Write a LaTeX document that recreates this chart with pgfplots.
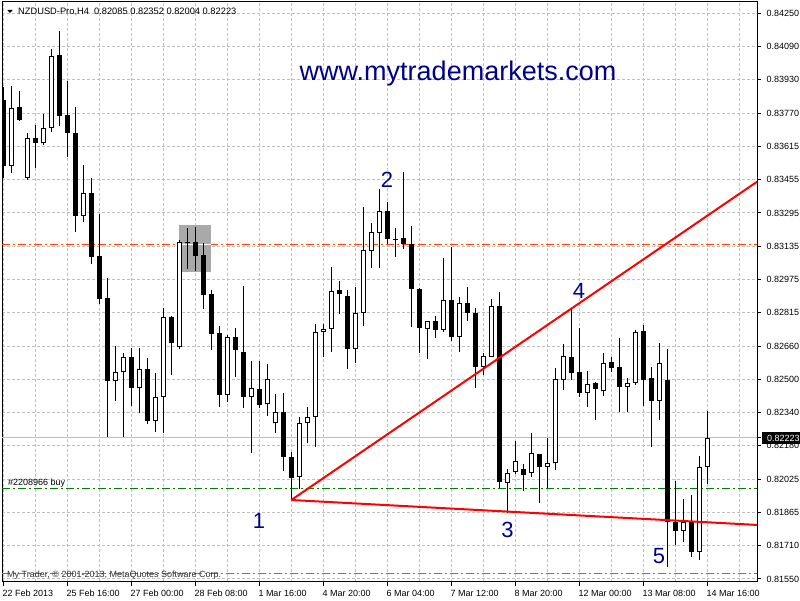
\documentclass[border=0pt]{standalone}
\usepackage{fontspec}
\setmainfont{Liberation Sans}
\usepackage{pgfplots}
\usepackage{pgfplotstable}
\pgfplotsset{compat=1.18}
\definecolor{gridgray}{RGB}{192,192,192}
\definecolor{navyt}{RGB}{0,0,139}
\definecolor{lvlorange}{rgb}{1,0.27,0}
\definecolor{mtgreen}{RGB}{0,128,0}
\definecolor{boxgray}{RGB}{169,169,169}
\pgfplotstableread{
i O H L C
1 0.83521 0.83903 0.83488 0.83798
3 0.83464 0.83679 0.83454 0.83655
5 0.83631 0.83769 0.83621 0.83703
6 0.83703 0.84080 0.83683 0.84046
10 0.83283 0.83526 0.83254 0.83392
14 0.82495 0.82662 0.82400 0.82538
15 0.82538 0.82629 0.82228 0.82610
17 0.82462 0.82652 0.82342 0.82552
19 0.82304 0.82533 0.82252 0.82419
20 0.82419 0.82843 0.82247 0.82800
22 0.82657 0.83168 0.82648 0.83158
28 0.82428 0.82715 0.82395 0.82705
31 0.82419 0.82590 0.82151 0.82462
33 0.82385 0.82576 0.82328 0.82505
34 0.82295 0.82433 0.82247 0.82347
37 0.82037 0.82323 0.81980 0.82295
38 0.82295 0.82371 0.82199 0.82323
39 0.82323 0.82767 0.82180 0.82729
40 0.82729 0.82767 0.82610 0.82743
41 0.82743 0.83039 0.82633 0.82925
44 0.82648 0.82944 0.82581 0.82820
45 0.82820 0.83325 0.82758 0.83120
46 0.83115 0.83249 0.83034 0.83206
47 0.83201 0.83411 0.83034 0.83306
53 0.82743 0.82781 0.82600 0.82781
55 0.82738 0.83082 0.82729 0.82882
57 0.82705 0.82896 0.82633 0.82867
60 0.82562 0.82629 0.82524 0.82614
61 0.82610 0.82886 0.82610 0.82853
63 0.82008 0.82075 0.81865 0.82056
64 0.82061 0.82209 0.82051 0.82113
66 0.82056 0.82247 0.82037 0.82151
68 0.82085 0.82223 0.81984 0.82104
69 0.82104 0.82557 0.82070 0.82505
70 0.82500 0.82672 0.82452 0.82614
73 0.82438 0.82543 0.82371 0.82481
75 0.82447 0.82629 0.82423 0.82581
78 0.82466 0.82509 0.82347 0.82485
79 0.82485 0.82738 0.82476 0.82729
82 0.82400 0.82676 0.82309 0.82581
85 0.81779 0.81932 0.81727 0.81822
87 0.81679 0.82137 0.81641 0.82085
88 0.82085 0.82352 0.82004 0.82223
}\bull
\pgfplotstableread{
i O H L C
0 0.83836 0.83898 0.83464 0.83521
2 0.83803 0.83879 0.83736 0.83741
4 0.83655 0.83717 0.83512 0.83631
7 0.84051 0.84166 0.83712 0.83760
8 0.83765 0.83927 0.83564 0.83679
9 0.83679 0.83803 0.83206 0.83283
11 0.83392 0.83464 0.83053 0.83087
12 0.83092 0.83292 0.82863 0.82886
13 0.82891 0.82987 0.82228 0.82495
16 0.82610 0.82652 0.82376 0.82462
18 0.82552 0.82605 0.82290 0.82304
21 0.82800 0.82805 0.82524 0.82676
23 0.83158 0.83225 0.83030 0.83154
24 0.83158 0.83230 0.83020 0.83092
25 0.83096 0.83154 0.82839 0.82905
26 0.82910 0.82929 0.82643 0.82719
27 0.82724 0.82758 0.82371 0.82428
29 0.82705 0.82748 0.82514 0.82643
30 0.82633 0.82948 0.82366 0.82419
32 0.82457 0.82590 0.82366 0.82380
35 0.82347 0.82438 0.82065 0.82132
36 0.82132 0.82156 0.81927 0.82032
42 0.82929 0.82972 0.82815 0.82910
43 0.82901 0.82929 0.82552 0.82648
48 0.83306 0.83349 0.83149 0.83173
49 0.83173 0.83225 0.83087 0.83168
50 0.83178 0.83493 0.83125 0.83149
51 0.83149 0.83235 0.82753 0.82934
52 0.82934 0.82939 0.82629 0.82748
54 0.82781 0.82805 0.82700 0.82738
56 0.82882 0.83135 0.82686 0.82705
58 0.82867 0.82944 0.82781 0.82820
59 0.82820 0.82843 0.82462 0.82562
62 0.82853 0.82920 0.81984 0.82013
65 0.82075 0.82099 0.81970 0.82046
67 0.82147 0.82147 0.81913 0.82085
71 0.82610 0.82843 0.82500 0.82533
72 0.82538 0.82748 0.82419 0.82438
74 0.82485 0.82490 0.82309 0.82457
76 0.82586 0.82610 0.82538 0.82557
77 0.82562 0.82700 0.82347 0.82466
80 0.82734 0.82762 0.82376 0.82500
81 0.82509 0.82562 0.82180 0.82400
83 0.82500 0.82648 0.81607 0.81822
84 0.81822 0.82018 0.81712 0.81779
86 0.81822 0.81951 0.81655 0.81679
}\bear
\newcommand{\smallf}{\fontsize{9}{10}\selectfont}
\begin{document}
\begin{tikzpicture}
\path[use as bounding box, fill=white] (-2pt,-18.5pt) rectangle (798pt,581.5pt);
\begin{axis}[
  scale only axis, width=755pt, height=579.5pt,
  xmin=-0.1625, xmax=94.2125, ymin=0.81538, ymax=0.84304,
  axis line style={line width=1pt, black},
  tick align=outside, xtick pos=left, ytick pos=right, yticklabel pos=right,
  major tick length=4pt, minor tick length=0pt,
  tick style={black, line width=1pt},
  xtick={0,8,...,88}, minor xtick={4,12,...,92},
  xticklabels={22 Feb 2013, 25 Feb 16:00, 27 Feb 00:00, 28 Feb 08:00, 1 Mar 16:00, 4 Mar 20:00, 6 Mar 04:00, 7 Mar 12:00, 8 Mar 20:00, 12 Mar 00:00, 13 Mar 08:00, 14 Mar 16:00},
  ytick={0.81550,0.817088,0.818676,0.820265,0.821853,0.823441,0.825029,0.826618,0.828206,0.829794,0.831382,0.832971,0.834559,0.836147,0.837735,0.839324,0.840912,0.84250},
  yticklabels={0.81550,0.81710,0.81865,0.82025,0.82180,0.82340,0.82500,0.82660,0.82815,0.82975,0.83135,0.83295,0.83455,0.83615,0.83770,0.83930,0.84090,0.84250},
  xmajorgrids, xminorgrids, ymajorgrids,
  major grid style={gridgray, line width=1pt, dash pattern=on 3pt off 2pt},
  minor grid style={gridgray, line width=1pt, dash pattern=on 3pt off 2pt},
  ticklabel style={font=\smallf, inner sep=0pt, text=black},
  xticklabel style={anchor=north west, xshift=-1pt, yshift=-4.5pt},
  yticklabel style={anchor=west, xshift=5.5pt},
  extra y ticks={0.82223}, extra y tick labels={0.82223},
  extra y tick style={major grid style={solid, gridgray, line width=1pt},
     yticklabel style={fill=black, text=white, inner xsep=5pt, inner ysep=2.5pt, xshift=-4.5pt}},
]
% shaded rectangle
\addplot[draw=none, fill=boxgray, forget plot] coordinates {(22,0.83240) (25.925,0.83240) (25.925,0.83017) (22,0.83017)} -- cycle;
% horizontal levels
\addplot[color=lvlorange, line width=1.3pt, dash pattern=on 8pt off 3pt on 2pt off 3pt, forget plot] coordinates {(-0.2,0.831465) (94.3,0.831465)};
\addplot[color=white, line width=1pt, forget plot] coordinates {(22,0.831465) (25.925,0.831465)};
\addplot[color=lvlorange, line width=1.5pt, dash pattern=on 8pt off 3pt on 2pt off 3pt, forget plot] coordinates {(-0.2,0.815762) (94.3,0.815762)};
\addplot[color=mtgreen, line width=1.2pt, dash pattern=on 8pt off 3pt on 2pt off 3pt, forget plot] coordinates {(-0.2,0.819819) (94.3,0.819819)};
% wicks
\addplot[draw=none, forget plot, error bars/.cd, y dir=plus, y explicit, error mark=none,
  error bar style={draw=black, solid, line width=1pt}]
  table[x=i, y=L, y error plus expr=\thisrow{H}-\thisrow{L}] {\bear};
\addplot[draw=none, forget plot, error bars/.cd, y dir=plus, y explicit, error mark=none,
  error bar style={draw=black, solid, line width=1pt}]
  table[x=i, y=L, y error plus expr=\thisrow{H}-\thisrow{L}] {\bull};
% bodies
\addplot[draw=none, forget plot, error bars/.cd, y dir=plus, y explicit, error mark=none,
  error bar style={draw=black, solid, line width=5pt}]
  table[x=i, y=C, y error plus expr=\thisrow{O}-\thisrow{C}] {\bear};
\addplot[draw=none, forget plot, error bars/.cd, y dir=plus, y explicit, error mark=none,
  error bar style={draw=black, solid, line width=5pt}]
  table[x=i, y=O, y error plus expr=\thisrow{C}-\thisrow{O}] {\bull};
\addplot[draw=none, forget plot, error bars/.cd, y dir=plus, y explicit, error mark=none,
  error bar style={draw=white, solid, line width=3pt}]
  table[x=i, y expr=\thisrow{O}+0.0000477, y error plus expr=\thisrow{C}-\thisrow{O}-0.0000954] {\bull};
% trend lines
\addplot[color=red, line width=2pt, forget plot] coordinates {(36,0.81927) (94.2125,0.83446)};
\addplot[color=red, line width=2pt, forget plot] coordinates {(36,0.81927) (94.2125,0.81808)};
% annotations
\node[font=\fontsize{27}{30}\selectfont, text=navyt, anchor=base, inner sep=0pt] at (axis cs:56.84,0.83927) {www.mytrademarkets.com};
\node[font=\fontsize{22}{24}\selectfont, text=navyt, inner sep=0pt] at (axis cs:31.96,0.81827) {1};
\node[font=\fontsize{22}{24}\selectfont, text=navyt, inner sep=0pt] at (axis cs:47.96,0.83454) {2};
\node[font=\fontsize{22}{24}\selectfont, text=navyt, inner sep=0pt] at (axis cs:63.03,0.81786) {3};
\node[font=\fontsize{22}{24}\selectfont, text=navyt, inner sep=0pt] at (axis cs:71.96,0.82927) {4};
\node[font=\fontsize{22}{24}\selectfont, text=navyt, inner sep=0pt] at (axis cs:81.96,0.81660) {5};
\end{axis}
\fill[black] (5.3pt,571.5pt) -- (10.7pt,571.5pt) -- (8pt,568.5pt) -- cycle;
\node[font=\fontsize{9.3}{10}\selectfont, anchor=base west, inner sep=0pt] at (16pt,566.5pt) {NZDUSD-Pro,H4\ \ 0.82085 0.82352 0.82004 0.82223};
\node[font=\smallf, anchor=base west, inner sep=0pt] at (6pt,96.5pt) {\#2208966 buy};
\node[font=\smallf, anchor=base west, inner sep=0pt, text=black!80] at (5pt,4pt) {My Trader, © 2001-2013, MetaQuotes Software Corp.};
\end{tikzpicture}
\end{document}
